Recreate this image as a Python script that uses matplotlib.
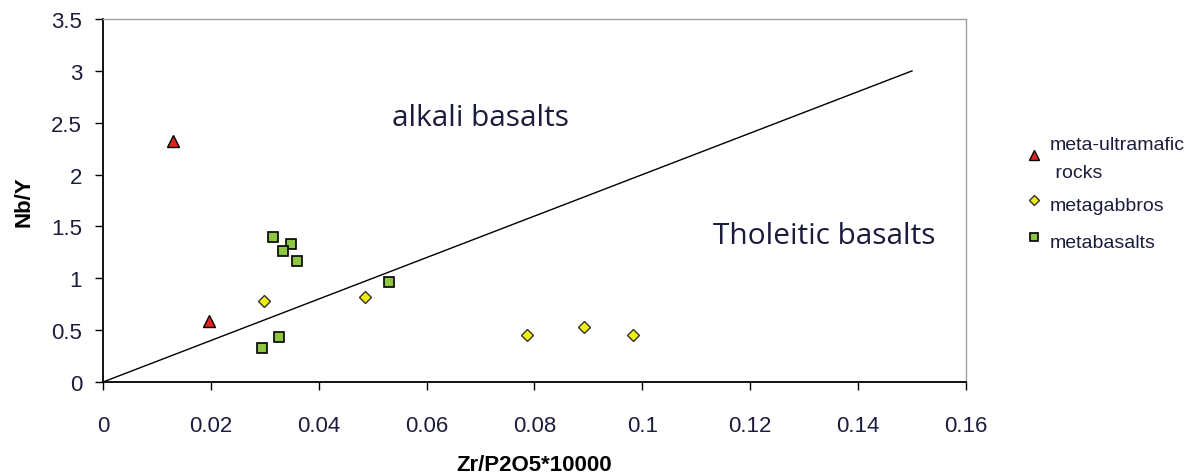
import numpy as np
import matplotlib.pyplot as plt

# data
ultramafic_x = [0.0130, 0.0197]
ultramafic_y = [2.32, 0.59]

gabbro_x = [0.0299, 0.0485, 0.0786, 0.0891, 0.0982]
gabbro_y = [0.78, 0.82, 0.45, 0.53, 0.45]

basalt_x = [0.0315, 0.0348, 0.0334, 0.0359, 0.0531, 0.0327, 0.0294]
basalt_y = [1.40, 1.33, 1.26, 1.17, 0.96, 0.43, 0.33]

# discrimination line between alkali and tholeiitic basalts
line_x = [0.0, 0.15]
line_y = [0.0, 3.0]

xticks = [0, 0.02, 0.04, 0.06, 0.08, 0.1, 0.12, 0.14, 0.16]
xtick_labels = ['0', '0.02', '0.04', '0.06', '0.08', '0.1', '0.12', '0.14', '0.16']
yticks = [0, 0.5, 1, 1.5, 2, 2.5, 3, 3.5]
ytick_labels = ['0', '0.5', '1', '1.5', '2', '2.5', '3', '3.5']

plt.rcParams['font.family'] = ['Liberation Sans', 'DejaVu Sans']
text_color = '#1c1c3c'

fig = plt.figure(figsize=(12.04, 4.77), dpi=100)
ax = fig.add_axes([0.0855, 0.197, 0.7168, 0.761])

ax.plot(line_x, line_y, color='black', lw=1.0, zorder=2)

ax.plot(ultramafic_x, ultramafic_y, ls='none', marker='^', ms=9, mfc='#e32222',
        mec='black', mew=1.0, label='meta-ultramafic\n rocks', zorder=3)
ax.plot(gabbro_x, gabbro_y, ls='none', marker='D', ms=6.5, mfc='#eeee10',
        mec='#333333', mew=1.0, label='metagabbros', zorder=3)
ax.plot(basalt_x, basalt_y, ls='none', marker='s', ms=7.5, mfc='#8dc63f',
        mec='black', mew=1.2, label='metabasalts', zorder=3)

ax.text(0.070, 2.55, 'alkali basalts', fontsize=21.5, color=text_color,
        family=['Open Sans', 'DejaVu Sans'], ha='center', va='center')
ax.text(0.1337, 1.41, 'Tholeitic basalts', fontsize=21.5, color=text_color,
        family=['Open Sans', 'DejaVu Sans'], ha='center', va='center')

ax.set_xlim(0, 0.16)
ax.set_ylim(0, 3.5)
ax.set_xticks(xticks)
ax.set_xticklabels(xtick_labels)
ax.set_yticks(yticks)
ax.set_yticklabels(ytick_labels)
ax.tick_params(direction='out', length=6, width=1, labelsize=16,
               labelcolor=text_color)
ax.tick_params(axis='y', pad=9)
ax.tick_params(axis='x', pad=18)

for side in ['top', 'right']:
    ax.spines[side].set_color('#a0a0a0')
    ax.spines[side].set_linewidth(1.0)
for side in ['left', 'bottom']:
    ax.spines[side].set_linewidth(1.3)

ax.set_xlabel('Zr/P2O5*10000', fontsize=16, fontweight='bold', labelpad=13)
ax.set_ylabel('Nb/Y', fontsize=16, fontweight='bold', labelpad=12)

leg = ax.legend(loc='upper left', bbox_to_anchor=(1.059, 0.70), frameon=False,
                fontsize=14, handletextpad=0.3, labelspacing=0.45,
                handlelength=1.0, handleheight=1.85, borderaxespad=0,
                markerscale=0.85)
for t in leg.get_texts():
    t.set_color(text_color)
leg.get_texts()[0].set_linespacing(1.85)

fig.savefig('out.png', dpi=100)
